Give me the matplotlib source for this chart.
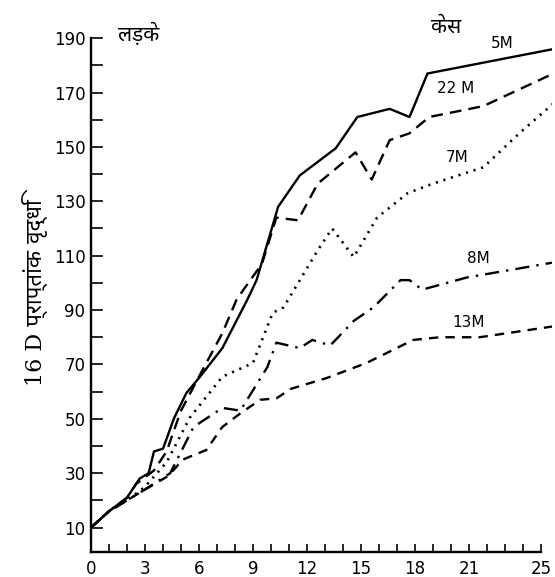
import matplotlib
matplotlib.use("Agg")
import matplotlib.pyplot as plt

# growth of 16 D scores by age (boys), cases 5M, 22M, 7M, 8M, 13M
x_5m = [0, 1, 2, 2.7, 3.2, 3.5, 4.0, 4.6, 5.3, 6.0, 7.3, 8.7, 9.2, 10.4, 11.6, 12.9, 13.6, 14.8, 16.6, 17.7, 18.7, 25.7]
y_5m = [10, 16, 21, 28, 30, 38, 39, 50, 59.5, 65, 76, 94, 101, 128, 139.5, 146, 149.5, 161, 164, 161, 177, 186]

x_22m = [0, 1, 2, 2.5, 3.5, 4.2, 5.0, 6.0, 7.3, 8.1, 9.5, 10.3, 11.5, 12.6, 14.7, 15.6, 16.6, 17.7, 18.8, 21.8, 25.7]
y_22m = [10, 16, 21, 26, 31, 38, 53, 65.5, 81.5, 94, 107, 124, 123, 136.5, 148, 138, 152.5, 155, 161, 165, 177]

x_7m = [0, 1, 2, 3, 4.2, 5.5, 7.3, 9.0, 10.1, 10.7, 12.6, 13.4, 14.6, 15.9, 17.6, 19.0, 21.8, 23.8, 25.7]
y_7m = [10, 16, 20, 25, 34, 50.5, 65.5, 70.5, 89, 91, 112, 120, 109.5, 124, 133, 136.5, 142.5, 155, 166]

x_8m = [0, 1, 2, 3, 4.4, 5.7, 7.3, 8.3, 9.8, 10.3, 11.6, 12.3, 13.3, 14.6, 15.7, 17.2, 17.7, 18.4, 20.9, 23.1, 25.7]
y_8m = [10, 16, 20, 24, 30, 47, 54, 53, 69, 78, 76, 79, 77, 86, 91, 101, 101, 97.5, 102, 104.5, 107.5]

x_13m = [0, 1, 2, 3, 4.3, 5.1, 6.4, 7.3, 8.3, 9.4, 10.3, 11.1, 13.1, 15.3, 17.9, 19.4, 21.6, 25.7]
y_13m = [10, 16, 20, 24, 29, 35, 38.5, 47, 52, 57, 57.5, 61, 65, 70.5, 79, 80, 80, 84]

xtick_pos = [0, 3, 6, 9, 12, 15, 18, 21, 25]
ytick_pos = [10, 30, 50, 70, 90, 110, 130, 150, 170, 190]

deva = ['Noto Sans Devanagari', 'Mukta', 'DejaVu Sans']

fig = plt.figure(figsize=(5.55, 5.77), dpi=100)
ax = fig.add_axes([0.164, 0.0433, 0.83, 0.900])

ax.plot(x_5m, y_5m, color='black', lw=1.7, ls='-')
ax.plot(x_22m, y_22m, color='black', lw=1.7, ls=(0, (5, 3)))
ax.plot(x_7m, y_7m, color='black', lw=1.9, ls=(0, (0.8, 2.2)))
ax.plot(x_8m, y_8m, color='black', lw=1.7, ls=(0, (6, 3, 1, 3)))
ax.plot(x_13m, y_13m, color='black', lw=1.7, ls=(0, (4, 3)))

ax.set_xlim(0, 25.6)
ax.set_ylim(1.0, 192)
for s in ['top', 'right']:
    ax.spines[s].set_visible(False)
ax.spines['left'].set_bounds(1.0, 190)
ax.spines['bottom'].set_bounds(0, 25)
ax.spines['left'].set_linewidth(1.7)
ax.spines['bottom'].set_linewidth(1.7)

ax.set_xticks(xtick_pos)
ax.set_xticklabels([str(v) for v in xtick_pos])
ax.set_xticks(range(0, 26), minor=True)
ax.set_yticks(ytick_pos)
ax.set_yticks(range(20, 191, 20), minor=True)
ax.tick_params(axis='x', which='both', direction='in', length=6, width=1.2, labelsize=12, pad=6)
ax.tick_params(axis='y', which='both', direction='out', length=0, labelsize=12, pad=4)
# y ticks drawn to the right of the axis line
for v in range(10, 191, 10):
    ax.plot([0, 0.6], [v, v], color='black', lw=1.2, clip_on=False)

ax.set_ylabel('16 D प्राप्तांक वृद्धि', fontsize=16, family=['DejaVu Serif'] + deva, labelpad=4)

ax.text(1.5, 191.5, 'लड़के', fontsize=15, family=deva, va='center', ha='left')
ax.text(18.9, 194, 'केस', fontsize=15, family=deva, va='center', ha='left')
ax.text(22.2, 188, '5M', fontsize=11, ha='left', va='center')
ax.text(19.2, 171.5, '22 M', fontsize=11, ha='left', va='center')
ax.text(19.7, 146, '7M', fontsize=11, ha='left', va='center')
ax.text(20.9, 109, '8M', fontsize=11, ha='left', va='center')
ax.text(20.1, 85.5, '13M', fontsize=11, ha='left', va='center')

fig.savefig("out.png", dpi=100)
